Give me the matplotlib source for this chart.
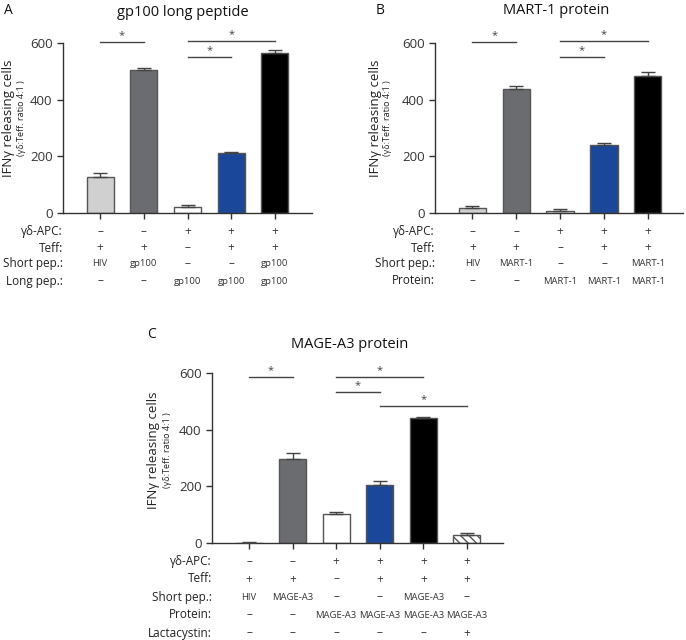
import matplotlib.pyplot as plt
import matplotlib.transforms as mtransforms

plt.rcParams['font.family'] = ['Open Sans', 'DejaVu Sans']

# Panel A: gp100 long peptide
a_values = [128, 503, 22, 213, 565]
a_errors = [12, 8, 6, 4, 10]
# Panel B: MART-1 protein
b_values = [18, 437, 8, 240, 485]
b_errors = [6, 13, 5, 8, 12]
# Panel C: MAGE-A3 protein
c_values = [1, 295, 103, 203, 440, 30]
c_errors = [1, 22, 5, 15, 3, 4]

a_rows = ['γδ-APC:', 'Teff:', 'Short pep.:', 'Long pep.:']
a_table = [['–', '–', '+', '+', '+'],
           ['+', '+', '–', '+', '+'],
           ['HIV', 'gp100', '–', '–', 'gp100'],
           ['–', '–', 'gp100', 'gp100', 'gp100']]
b_rows = ['γδ-APC:', 'Teff:', 'Short pep.:', 'Protein:']
b_table = [['–', '–', '+', '+', '+'],
           ['+', '+', '–', '+', '+'],
           ['HIV', 'MART-1', '–', '–', 'MART-1'],
           ['–', '–', 'MART-1', 'MART-1', 'MART-1']]
c_rows = ['γδ-APC:', 'Teff:', 'Short pep.:', 'Protein:', 'Lactacystin:']
c_table = [['–', '–', '+', '+', '+', '+'],
           ['+', '+', '–', '+', '+', '+'],
           ['HIV', 'MAGE-A3', '–', '–', 'MAGE-A3', '–'],
           ['–', '–', 'MAGE-A3', 'MAGE-A3', 'MAGE-A3', 'MAGE-A3'],
           ['–', '–', '–', '–', '–', '+']]

# significance brackets: (start bar, end bar, height)
a_sig = [(0, 1, 603), (2, 3, 550), (2, 4, 607)]
b_sig = [(0, 1, 603), (2, 3, 550), (2, 4, 607)]
c_sig = [(0, 1, 586), (2, 4, 586), (2, 3, 533), (3, 5, 483)]

colors = ['#cfd0cf', '#6b6c6f', 'white', '#1a4799', 'black', 'white']
hatches = [None, None, None, None, None, '\\\\\\\\']

W, H = 686, 640
fig = plt.figure(figsize=(W / 100, H / 100), dpi=100)


def fx(px):
    return px / W


def fy(py):
    return 1 - py / H


def panel(left, right, top, bottom, xmax, values, errors, sig, rows, table,
          row_ys, title, title_xy, letter_xy, ylab_x, ylab_y):
    ax = fig.add_axes([fx(left), fy(bottom), fx(right - left), (bottom - top) / H])
    n = len(values)
    xs = list(range(n))
    for i in xs:
        ax.bar(i, values[i], width=0.62, color=colors[i], edgecolor='#555555',
               linewidth=1.0, hatch=hatches[i], zorder=2)
    ax.errorbar(xs, values, yerr=[[0] * n, errors], fmt='none', ecolor='#444444',
                elinewidth=1.0, capsize=5, capthick=1.0, zorder=3)
    ax.set_xlim(-0.85, xmax)
    ax.set_ylim(0, 600)
    ax.set_yticks([0, 200, 400, 600])
    ax.set_xticks(xs)
    ax.set_xticklabels([])
    ax.tick_params(axis='y', labelsize=9.5, length=4, width=1, colors='#333333')
    ax.tick_params(axis='x', length=4, width=1, colors='#333333')
    for s in ['top', 'right']:
        ax.spines[s].set_visible(False)
    for s in ['left', 'bottom']:
        ax.spines[s].set_color('#333333')
        ax.spines[s].set_linewidth(1.0)
    for s0, s1, h in sig:
        ax.plot([s0, s1], [h, h], color='#444444', lw=1.0, clip_on=False)
        ax.text((s0 + s1) / 2, h + 2, '*', ha='center', va='bottom',
                fontsize=8, color='#444444', clip_on=False)
    trans = mtransforms.blended_transform_factory(ax.transData, fig.transFigure)
    for r, (lab, vals) in enumerate(zip(rows, table)):
        fig.text(fx(left), fy(row_ys[r]), lab, ha='right', va='center',
                 fontsize=8.5, color='#222222')
        for i, v in enumerate(vals):
            fs = 8.5 if v in ('+', '–') else 6.8
            ax.text(i, fy(row_ys[r]), v, transform=trans, ha='center',
                    va='center', fontsize=fs, color='#333333')
    fig.text(fx(title_xy[0]), fy(title_xy[1]), title, ha='center', va='center',
             fontsize=10.5, color='#111111')
    fig.text(fx(letter_xy[0]), fy(letter_xy[1]), letter_xy[2], ha='left',
             va='center', fontsize=10, color='#111111')
    fig.text(fx(ylab_x), fy(ylab_y), 'IFNγ releasing cells', rotation=90,
             ha='center', va='center', fontsize=9.5, color='#222222')
    fig.text(fx(ylab_x + 13), fy(ylab_y), '(γδ:Teff. ratio 4:1 )', rotation=90,
             ha='center', va='center', fontsize=6.5, color='#222222')
    return ax


panel(63, 312, 43, 213, 4.85, a_values, a_errors, a_sig, a_rows, a_table,
      [232, 248, 264, 281], 'gp100 long peptide', (183, 12), (4, 10, 'A'), 9, 118)
panel(435, 683, 43, 213, 4.8, b_values, b_errors, b_sig, b_rows, b_table,
      [232, 248, 264, 281], 'MART-1 protein', (556, 10), (376, 10, 'B'), 375, 118)
panel(212, 503, 373, 543, 5.83, c_values, c_errors, c_sig, c_rows, c_table,
      [562, 579, 597, 615, 633], 'MAGE-A3 protein', (350, 345), (147, 334, 'C'), 154, 450)

fig.savefig('out.png', dpi=100)
